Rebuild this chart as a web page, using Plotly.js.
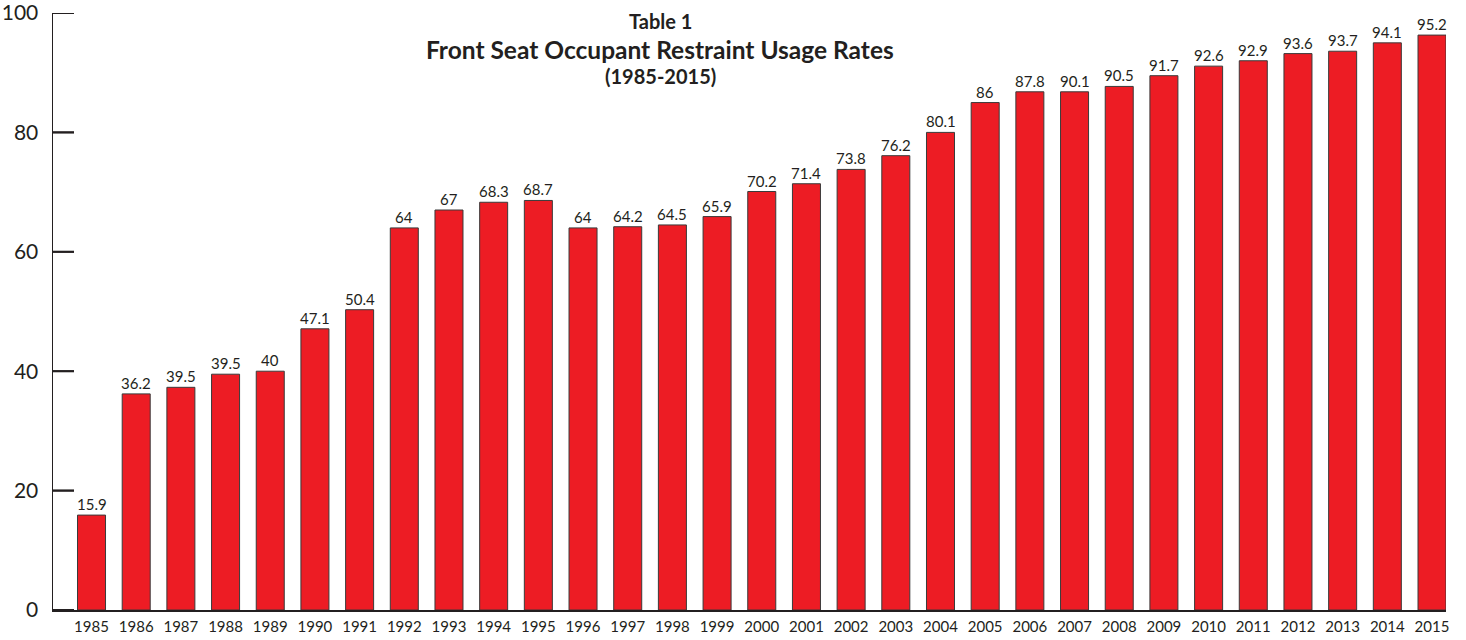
<!DOCTYPE html>
<html>
<head>
<meta charset="utf-8">
<script src="https://cdn.plot.ly/plotly-3.0.1.min.js"></script>
<style>
html,body{margin:0;padding:0;background:#fff;}
#chart{width:1466px;height:640px;}
</style>
</head>
<body>
<div id="chart"></div>
<script>
// Years (categories)
const years = ["1985","1986","1987","1988","1989","1990","1991","1992","1993","1994","1995","1996","1997","1998","1999","2000","2001","2002","2003","2004","2005","2006","2007","2008","2009","2010","2011","2012","2013","2014","2015"];
// Bar heights as drawn in the reference
const barValues = [15.9,36.2,37.3,39.5,40.0,47.1,50.3,64.0,67.0,68.3,68.6,64.0,64.2,64.5,65.9,70.1,71.4,73.8,76.1,80.0,85.0,86.8,86.8,87.7,89.5,91.1,92.0,93.2,93.6,95.0,96.3];
// Value labels printed above the bars
const labelTexts = ["15.9","36.2","39.5","39.5","40","47.1","50.4","64","67","68.3","68.7","64","64.2","64.5","65.9","70.2","71.4","73.8","76.2","80.1","86","87.8","90.1","90.5","91.7","92.6","92.9","93.6","93.7","94.1","95.2"];
// Y-axis ticks
const yTicks = [0,20,40,60,80,100];
const titleLines = ["Table 1","Front Seat Occupant Restraint Usage Rates","(1985-2015)"];

const FONT = "Lato, 'Open Sans', sans-serif";
const INK = "#231F20";
const PLOT_W = 1393;   // plot-area width in px
const TICK_LEN = 21;   // inward tick length in px

const trace = {
  type: "bar",
  x: years,
  y: barValues,
  width: 0.627,
  marker: {color: "#ED1C24", line: {color: "#3a3a3a", width: 1}},
  hoverinfo: "x+y"
};

// inward y-axis ticks drawn as thin horizontal bars on a pixel-scaled overlay x axis
const tickTrace = {
  type: "bar", orientation: "h",
  y: yTicks, x: yTicks.map(() => TICK_LEN),
  xaxis: "x2", yaxis: "y",
  width: 0.3,
  marker: {color: INK, line: {width: 0}},
  hoverinfo: "skip", showlegend: false
};

const annotations = years.map((yr, i) => ({
  x: i, y: barValues[i], xref: "x", yref: "y",
  text: labelTexts[i], showarrow: false,
  yanchor: "bottom", yshift: 0,
  font: {family: FONT, size: 15, color: INK}
}));

const cx = (660-53)/PLOT_W;
annotations.push(
  {xref:"paper", yref:"paper", x:cx, y:1 - (21-13)/597, yanchor:"middle", xanchor:"center", showarrow:false,
   text:"<b>"+titleLines[0]+"</b>", font:{family:FONT, size:20, color:INK}},
  {xref:"paper", yref:"paper", x:cx, y:1 - (50-13)/597, yanchor:"middle", xanchor:"center", showarrow:false,
   text:"<b>"+titleLines[1]+"</b>", font:{family:FONT, size:24.5, color:INK}},
  {xref:"paper", yref:"paper", x:cx, y:1 - (76-13)/597, yanchor:"middle", xanchor:"center", showarrow:false,
   text:"<b>"+titleLines[2]+"</b>", font:{family:FONT, size:20, color:INK}}
);

const tickShapes = yTicks.map(v => ({
  type: "line", xref: "paper", yref: "y", layer: "above",
  x0: 0, x1: TICK_LEN/PLOT_W, y0: v, y1: v,
  line: {color: INK, width: 2}
}));

const layout = {
  width: 1466, height: 640,
  margin: {l: 53, r: 20, t: 13, b: 30, pad: 0},
  paper_bgcolor: "#fff", plot_bgcolor: "#fff",
  showlegend: false,
  barmode: "overlay",
  xaxis: {
    type: "category",
    range: [-0.862, 30.313],
    showgrid: false, zeroline: false,
    showline: true, linecolor: INK, linewidth: 1.5,
    ticks: "outside", ticklen: 2, tickcolor: "rgba(0,0,0,0)",
    tickfont: {family: FONT, size: 15, color: INK}
  },
  xaxis2: {
    overlaying: "x", anchor: "y", range: [0, PLOT_W],
    visible: false, showgrid: false, zeroline: false
  },
  yaxis: {
    range: [0, 100],
    tickvals: yTicks,
    showgrid: false, zeroline: false,
    showline: true, linecolor: INK, linewidth: 1.5,
    ticklabeloverflow: "allow",
    ticks: "outside", ticklen: 9, tickcolor: "rgba(0,0,0,0)",
    tickfont: {family: FONT, size: 21, color: INK}
  },
  shapes: tickShapes,
  annotations: annotations
};

Plotly.newPlot("chart", [trace, tickTrace], layout, {displayModeBar: false, staticPlot: true});
</script>
</body>
</html>
